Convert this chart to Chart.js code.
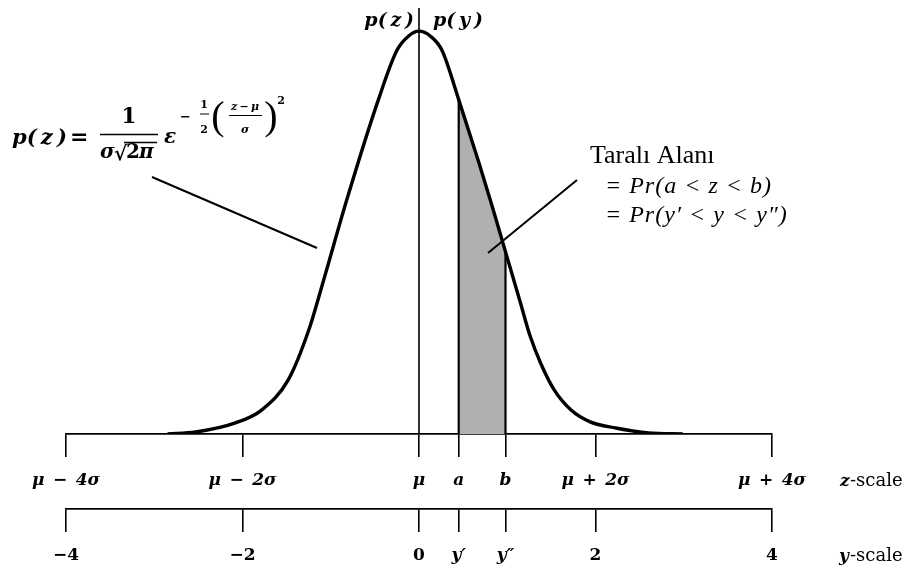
<!DOCTYPE html>
<html>
<head>
<meta charset="utf-8">
<script src="https://cdn.jsdelivr.net/npm/chart.js@4.4.1/dist/chart.umd.min.js"></script>
<style>
  html, body { margin: 0; padding: 0; background: #fff; }
  #wrap { width: 912px; height: 573px; }
</style>
</head>
<body>
<div id="wrap"><canvas id="normalChart" width="912" height="573"></canvas></div>
<script>
// normal curve p(z), in standard units (x) and density (y)
const curveX = [-2.85, -2.53, -2.08, -1.78, -1.48, -1.25, -1.08, -0.82, -0.46, -0.25, -0.12, 0,
                0.13, 0.26, 0.45, 0.68, 0.83, 0.94, 1.04, 1.15, 1.26, 1.38, 1.53, 1.72, 1.94, 2.23, 2.60, 2.99];
const curveY = [0, 0.002, 0.011, 0.024, 0.054, 0.103, 0.153, 0.232, 0.332, 0.381, 0.395, 0.400,
                0.395, 0.381, 0.332, 0.269, 0.226, 0.193, 0.163, 0.130, 0.097, 0.070, 0.044, 0.024, 0.012, 0.006, 0.001, 0];

// shaded area between a and b
const shadeX = [0.45, 0.45, 0.68, 0.83, 0.94, 0.98, 0.98];
const shadeY = [0, 0.332, 0.269, 0.226, 0.193, 0.181, 0];

// axis ticks
const tickValues = [-4, -2, 0, 0.45, 0.98, 2, 4];
const zLabels = ['μ\u2002−\u20024σ', 'μ\u2002−\u20022σ', 'μ', 'a', 'b', 'μ\u2002+\u20022σ', 'μ\u2002+\u20024σ'];
const yLabels = ['−4', '−2', '0', 'y′', 'y″', '2', '4'];

const yMax = 0.423;
const MATH = '"DejaVu Serif", serif';
const TEXT = '"Liberation Serif", "Times New Roman", serif';

function toPoints(xs, ys) {
    return xs.map((x, i) => ({ x: x, y: ys[i] }));
}

function axisOptions(labels, height, fontFor) {
    return {
        type: 'linear',
        position: 'bottom',
        min: -4,
        max: 4,
        afterBuildTicks: scale => { scale.ticks = tickValues.map(v => ({ value: v })); },
        afterFit: scale => { scale.height = height; },
        border: { display: true, color: '#000', width: 1.8 },
        grid: { drawOnChartArea: false, drawTicks: true, tickLength: 23, color: '#000', lineWidth: 1.6 },
        ticks: {
            autoSkip: false,
            maxRotation: 0,
            padding: 13,
            color: '#000',
            font: fontFor,
            callback: (value, index) => labels[index]
        }
    };
}

// formula, labels and leader lines
const notes = {
    id: 'notes',
    afterDraw(chart) {
        const ctx = chart.ctx;
        ctx.save();
        ctx.fillStyle = '#000';
        ctx.strokeStyle = '#000';
        ctx.textBaseline = 'alphabetic';

        // leader lines
        ctx.lineWidth = 2;
        ctx.beginPath();
        ctx.moveTo(152, 177); ctx.lineTo(317, 248);
        ctx.moveTo(577, 180); ctx.lineTo(488, 253);
        ctx.stroke();

        // p(z) | p(y) on the vertical axis
        ctx.font = 'bold italic 19px ' + MATH;
        ctx.textAlign = 'right';
        ctx.fillText('p(\u2009z\u2009)', 414, 26);
        ctx.textAlign = 'left';
        ctx.fillText('p(\u2009y\u2009)', 433, 26);

        // p(z) = 1/(σ√2π) ε^(-1/2((z-μ)/σ)^2)
        ctx.font = 'bold italic 21px ' + MATH;
        ctx.fillText('p(\u2009z\u2009)', 12, 144);
        ctx.font = 'bold 22px ' + MATH;
        ctx.fillText('=', 70, 144);
        ctx.textAlign = 'center';
        ctx.fillText('1', 129, 123);
        ctx.lineWidth = 1.5;
        ctx.beginPath();
        ctx.moveTo(100, 134.5); ctx.lineTo(158, 134.5);
        ctx.stroke();
        ctx.textAlign = 'left';
        ctx.font = 'bold italic 20px ' + MATH;
        ctx.fillText('σ', 100, 158);
        ctx.font = 'bold 20px ' + MATH;
        ctx.fillText('√', 114, 160);
        ctx.fillText('2', 126, 158);
        ctx.font = 'bold italic 20px ' + MATH;
        ctx.fillText('π', 139, 158);
        ctx.beginPath();
        ctx.moveTo(124, 142.5); ctx.lineTo(157, 142.5);
        ctx.stroke();
        ctx.fillText('ε', 164, 143);
        // exponent
        ctx.font = 'bold 13px ' + MATH;
        ctx.fillText('−', 180, 121);
        ctx.textAlign = 'center';
        ctx.font = 'bold 11px ' + MATH;
        ctx.fillText('1', 204, 108);
        ctx.fillText('2', 204, 133);
        ctx.lineWidth = 1;
        ctx.beginPath();
        ctx.moveTo(200, 114); ctx.lineTo(209, 114);
        ctx.stroke();
        ctx.font = '40px ' + TEXT;
        ctx.fillText('(', 218, 129);
        ctx.fillText(')', 271, 129);
        ctx.font = 'bold italic 11px ' + MATH;
        ctx.fillText('z\u2009−\u2009μ', 245, 110);
        ctx.fillText('σ', 245, 133);
        ctx.beginPath();
        ctx.moveTo(229, 115.5); ctx.lineTo(262, 115.5);
        ctx.stroke();
        ctx.font = 'bold 11px ' + MATH;
        ctx.fillText('2', 281, 104);

        // shaded area note
        ctx.textAlign = 'left';
        ctx.font = '26px ' + TEXT;
        ctx.fillText('Taralı Alanı', 590, 163);
        ctx.font = 'italic 24px ' + TEXT;
        ctx.letterSpacing = '1px';
        ctx.fillText('= Pr(a < z < b)', 605, 193);
        ctx.fillText('= Pr(y′ < y < y″)', 605, 222);
        ctx.letterSpacing = '0px';

        // scale names
        ctx.font = 'bold italic 17px ' + MATH;
        ctx.fillText('z', 840, 486);
        ctx.fillText('y', 839, 561);
        ctx.font = '18px ' + MATH;
        ctx.fillText('-scale', 850, 486);
        ctx.fillText('-scale', 850, 561);
        ctx.restore();
    }
};

new Chart(document.getElementById('normalChart'), {
    type: 'line',
    data: {
        datasets: [{
            data: toPoints(curveX, curveY),
            borderColor: '#000',
            borderWidth: 3.4,
            pointRadius: 0,
            cubicInterpolationMode: 'monotone',
            fill: false
        }, {
            // vertical p axis through the mean
            data: [{ x: 0, y: 0 }, { x: 0, y: yMax }],
            borderColor: '#000',
            borderWidth: 1.6,
            pointRadius: 0,
            fill: false
        }, {
            data: toPoints(shadeX, shadeY),
            borderWidth: 2.2,
            pointRadius: 0,
            tension: 0,
            fill: 'origin',
            backgroundColor: '#b0b0b0',
            segment: {
                borderColor: c => (c.p0DataIndex === 0 || c.p1DataIndex === shadeX.length - 1) ? '#000' : 'rgba(0,0,0,0)'
            }
        }]
    },
    options: {
        responsive: false,
        animation: false,
        layout: { padding: { left: 66, right: 140, top: 8, bottom: 0 } },
        plugins: { legend: { display: false }, tooltip: { enabled: false } },
        scales: {
            x: axisOptions(zLabels, 75, () => ({ family: MATH, size: 17, weight: 'bold', style: 'italic' })),
            x2: axisOptions(yLabels, 64, c => ({
                family: MATH, size: 17, weight: 'bold',
                style: /y/.test(yLabels[c.index]) ? 'italic' : 'normal'
            })),
            y: { display: false, min: 0, max: yMax }
        }
    },
    plugins: [notes]
});
</script>
</body>
</html>
